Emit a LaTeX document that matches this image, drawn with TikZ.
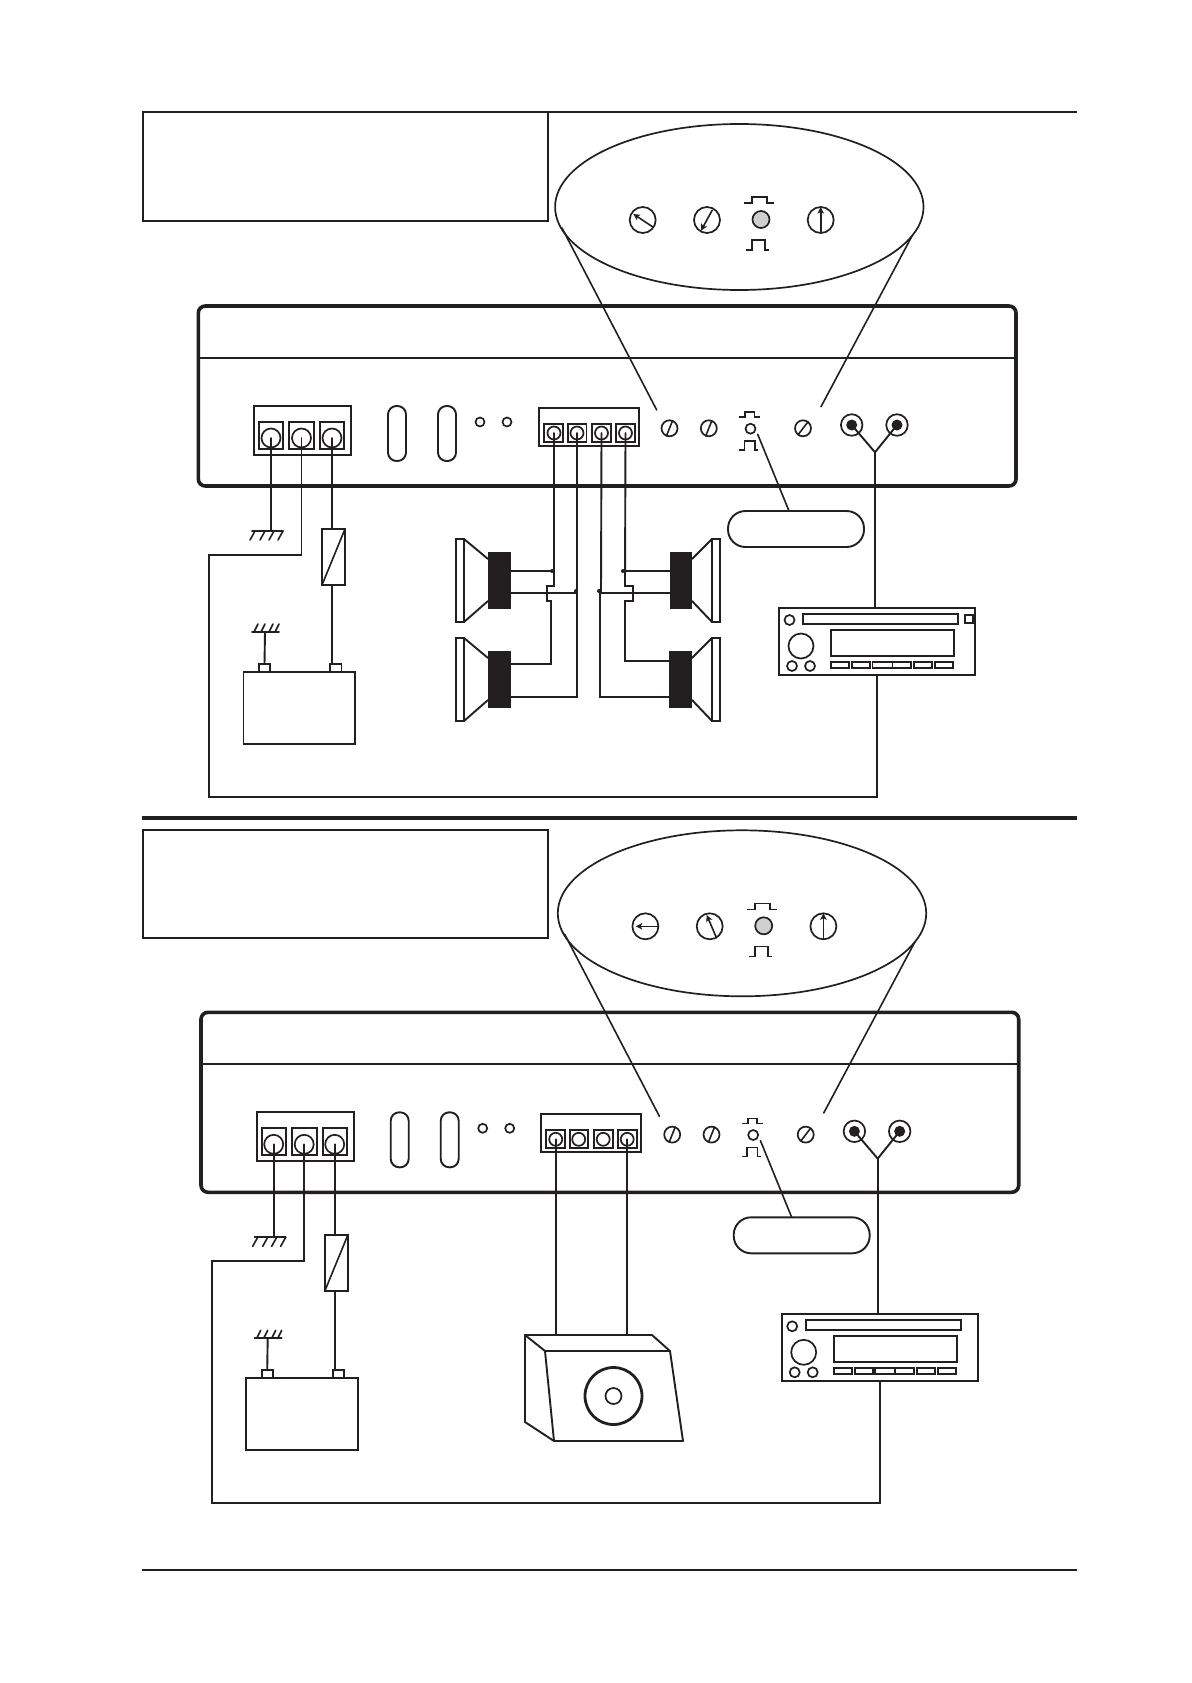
\documentclass[tikz,border=0pt]{standalone}
\usetikzlibrary{arrows.meta,shapes.geometric,calc}
\definecolor{ink}{HTML}{231F20}
\definecolor{ledgray}{HTML}{CFCFCF}
\tikzset{
  wire/.style={draw=ink,line width=1.9pt,line cap=round,line join=miter},
  thin wire/.style={draw=ink,line width=1.6pt,line cap=round},
  outline/.style={draw=ink,line width=1.9pt,fill=none,inner sep=0pt,outer sep=0pt},
  ring/.style={circle,draw=ink,line width=1.7pt,fill=none,inner sep=0pt,outer sep=0pt},
  magnet/.style={draw=none,fill=ink,inner sep=0pt,outer sep=0pt},
  needle/.style={draw=ink,line width=1.6pt,-{Stealth[length=6.5pt,width=6.5pt,inset=1.5pt]}},
  rulethin/.style={draw=ink,line width=2pt},
  dot/.style={circle,fill=ink,inner sep=0pt,minimum size=4pt},
}
% [style]{name}{x1}{y1}{x2}{y2}
\newcommand{\boxat}[6][]{%
  \pgfmathsetmacro\bcx{(#3+#5)/2}%
  \pgfmathsetmacro\bcy{(#4+#6)/2}%
  \pgfmathsetmacro\bw{#5-#3}%
  \pgfmathsetmacro\bh{#6-#4}%
  \node[outline,rectangle,minimum width=\bw pt,minimum height=\bh pt,#1] (#2) at (\bcx,\bcy) {};%
}
% {name}{x}{y}{dx}{dy} slotted screw
\newcommand{\screwat}[5]{%
  \node[ring,minimum size=16pt] (#1) at (#2,#3) {};%
  \draw[thin wire] ($(#1.center)+(#4,#5)$) -- ($(#1.center)-(#4,#5)$);%
}
% {x1}{x2}{y1}{y2}{x3}{x4} square-pulse symbol
\newcommand{\pulseat}[6]{%
  \draw[thin wire,line cap=butt] (#1,#3) -- (#5,#3) -- (#5,#4) -- (#6,#4) -- (#6,#3) -- (#2,#3);%
}
% {name}{plate x1}{plate x2}{inner plate x}{magnet x1}{magnet x2}{near magnet x}{top}
\newcommand{\speakerat}[8]{%
  \pgfmathsetmacro\sb{#8+83}%
  \pgfmathsetmacro\mt{#8+13}%
  \pgfmathsetmacro\mb{#8+70}%
  \pgfmathsetmacro\ct{#8+20}%
  \pgfmathsetmacro\cb{#8+62}%
  \boxat[]{#1p}{#2}{#8}{#3}{\sb}%
  \boxat[magnet]{#1}{#5}{\mt}{#6}{\mb}%
  \draw[wire] (#4,#8) -- (#7,\ct);%
  \draw[wire] (#4,\sb) -- (#7,\cb);%
}
% {prefix}{needle 1}{needle 2}{oval dx}{speaker block dx}
\newcommand{\ampunit}[5]{%
  % magnified panel
  \node[ellipse,draw=ink,line width=1.7pt,inner sep=0pt,minimum width=368.4pt,minimum height=166pt] (#1ell) at (739.3,207) {};
  \node[ring,minimum size=26pt] (#1d1) at (642.7,220) {};
  \node[ring,minimum size=26pt] (#1d2) at (707,220) {};
  \node[ring,minimum size=26pt] (#1d3) at (820.7,220) {};
  \node[ring,minimum size=17pt,fill=ledgray] (#1led) at (761,219.5) {};
  \draw[needle] #2;
  \draw[needle] #3;
  \draw[needle] (#1d3.south) -- (#1d3.north);
  \pulseat{744.3}{774}{203}{197}{752}{767}
  \pulseat{746.3}{769}{250}{240}{752}{765}
  % amplifier body
  \boxat[line width=3.6pt,rounded corners=7pt]{#1amp}{198.3}{306}{1016}{486}
  \draw[wire] (#1amp.west |- 0,358) -- (#1amp.east |- 0,358);
  % callout lines
  \coordinate (#1la) at (562,228);
  \coordinate (#1lb) at (656.7,410);
  \coordinate (#1ra) at (912,236);
  \coordinate (#1rb) at (821,406.7);
  \draw[thin wire] (#1la) -- (#1lb);
  \draw[thin wire] (#1ra) -- (#1rb);
  % power terminals
  \boxat[]{#1pw}{254}{406}{351}{455}
  \boxat[]{#1pa}{259}{422}{283}{449}
  \boxat[]{#1pb}{289}{422}{314}{449}
  \boxat[]{#1pc}{320}{422}{344}{449}
  \node[ring,minimum size=19pt] (#1p1) at (271,438) {};
  \node[ring,minimum size=19pt] (#1p2) at (301.5,438) {};
  \node[ring,minimum size=19pt] (#1p3) at (332,438) {};
  % fuses in the panel
  \boxat[rounded corners=8.5pt]{#1ova}{388}{406}{406}{461}
  \boxat[rounded corners=8.5pt]{#1ovb}{438}{406}{456}{461}
  \node[ring,minimum size=9pt] (#1la1) at (480,422) {};
  \node[ring,minimum size=9pt] (#1la2) at (507,422) {};
  % speaker terminals
  \begin{scope}[xshift=#5]
  \boxat[]{#1sw}{539}{408}{639}{446}
  \boxat[]{#1sa}{544}{424}{563}{442}
  \boxat[]{#1sb}{568}{424}{586.5}{442}
  \boxat[]{#1sc}{592}{424}{611}{442}
  \boxat[]{#1sd}{616}{424}{635}{442}
  \node[ring,minimum size=13pt] (#1s1) at (554,433) {};
  \node[ring,minimum size=13pt] (#1s2) at (577,433) {};
  \node[ring,minimum size=13pt] (#1s3) at (601.5,433) {};
  \node[ring,minimum size=13pt] (#1s4) at (625.5,433) {};
  \end{scope}
  % trim screws
  \screwat{#1sc1}{669.5}{428.3}{3}{-7.5}
  \screwat{#1sc2}{708.8}{428.3}{3}{-7.5}
  \screwat{#1sc3}{803}{428.3}{5}{-6.5}
  \node[ring,minimum size=10pt] (#1sw1) at (750.5,428.7) {};
  \pulseat{739}{760}{417}{412}{745}{754.3}
  \pulseat{739}{758}{450}{441}{744.3}{754.7}
  % RCA inputs
  \node[ring,minimum size=21.5pt] (#1ra1) at (851.7,425) {};
  \node[circle,fill=ink,inner sep=0pt,minimum size=11pt] (#1rc1) at (851.7,425) {};
  \node[ring,minimum size=21.5pt] (#1ra2) at (897,425) {};
  \node[circle,fill=ink,inner sep=0pt,minimum size=11pt] (#1rc2) at (897,425) {};
  \coordinate (#1yj) at (875,452.3);
  \draw[wire] (#1rc1.center) -- (#1yj);
  \draw[wire] (#1rc2.center) -- (#1yj);
  % switch label
  \boxat[rounded corners=17.5pt,xshift=#4]{#1swl}{728}{511}{864}{547}
  \coordinate (#1sl) at (757.7,434.3);
  \draw[thin wire] (#1sl) -- (#1swl.north -| 789,0);
  % head unit
  \begin{scope}[xshift=1pt]
  \boxat[]{#1hu}{778}{608}{974}{675}
  \node[ring,minimum size=10pt] (#1h1) at (788.5,620) {};
  \boxat[]{#1slot}{802}{614}{957}{624}
  \node[ring,minimum size=25pt] (#1knob) at (800,646) {};
  \boxat[]{#1disp}{830}{630}{953}{656}
  \node[ring,minimum size=10pt] (#1h2) at (791,666) {};
  \node[ring,minimum size=10pt] (#1h3) at (809,666) {};
  \boxat[]{#1b1}{830}{662}{848}{668}
  \boxat[]{#1b2}{851}{662}{869}{668}
  \boxat[]{#1b3}{871.5}{662}{891.5}{668}
  \boxat[]{#1b4}{891.5}{662}{910}{668}
  \boxat[]{#1b5}{913}{662}{931}{668}
  \boxat[]{#1b6}{934}{662}{952}{668}
  \end{scope}
  \draw[wire] (#1yj) -- (#1yj |- 0,607);
  % chassis ground
  \coordinate (#1g1) at (271,531);
  \draw[wire] (#1p1.center) -- (#1g1);
  \draw[wire] (252,531) -- (283,531);
  \foreach \gx in {255,265,274,283} \draw[thin wire] (\gx,531) -- (\gx-5,540);
  % remote line
  \coordinate (#1c1) at (301.5,555);
  \coordinate (#1c2) at (209,555);
  \coordinate (#1c3) at (209,797);
  \draw[wire] (#1p2.center) -- (#1c1) -- (#1c2) -- (#1c3) -- (#1c3 -| #1hu.south) -- (#1hu.south);
  % fuse
  \boxat[]{#1fuse}{322}{529}{345}{585}
  \draw[thin wire] (#1fuse.south west) -- (#1fuse.north east);
  \draw[wire] (#1p3.center) -- (#1p3.center |- #1fuse.north);
  % battery
  \boxat[]{#1bat}{243.5}{672}{355}{744}
  \boxat[]{#1bt1}{259}{664}{270}{672}
  \boxat[]{#1bt2}{330}{664}{341.5}{672}
  \draw[wire] (#1p3.center |- #1fuse.south) -- (#1p3.center |- #1bt2.north);
  \coordinate (#1g2) at (265,632);
  \draw[wire] (#1bt1.north) -- (#1g2);
  \draw[wire] (252,632) -- (279,632);
  \foreach \gx in {254,261,269,275} \draw[thin wire] (\gx,632) -- (\gx+4,624);
}
\begin{document}
\begin{tikzpicture}[x=1pt,y=-1pt]
\useasboundingbox (0,0) rectangle (1191,1683);
\fill[white] (0,0) rectangle (1191,1683);

% ---------- top section ----------
\coordinate (topL) at (142,112);
\coordinate (topR) at (1077,112);
\draw[draw=ink,line width=2.4pt] (topL) -- (topR);
\boxat[]{capA}{143}{112}{548}{221}

\begin{scope}
\ampunit{a}{(653.3,227.3) -- (633.3,214)}{(712.3,210) -- (701,230.7)}{0pt}{0pt}
\end{scope}

\boxat[]{aslotsq}{965}{615}{973}{623}

% four speakers
\speakerat{m1}{456}{464}{464}{488}{511}{488}{539}
\speakerat{m3}{456}{464}{464}{488}{511}{488}{638}
\speakerat{m2}{712}{720}{712}{670}{692}{692}{539}
\speakerat{m4}{712}{720}{712}{669}{692}{692}{638}

\coordinate (j1) at (554,571);
\coordinate (j2) at (577,593);
\coordinate (j3) at (600.5,593);
\coordinate (j4) at (625,571);
% wire from terminal 1
\draw[wire] (as1.center) -- (j1) -- (554,586) -- (547,586) -- (547,601) -- (551,601) -- (551,664) -- (m3.east |- 0,664);
\draw[wire] (m1.east |- j1) -- (j1);
\node[dot] (dj1) at (552,571) {};
% wire from terminal 2
\draw[wire] (as2.center) -- (577,697) -- (m3.east |- 0,697);
\draw[wire] (m1.east |- j2) -- (j2);
\node[dot] (dj2) at (576,591) {};
% wire from terminal 3
\draw[wire] (as3.center) -- (601,592) -- (600,592) -- (600,697) -- (m4.west |- 0,697);
\draw[wire] (m2.west |- j3) -- (j3);
\node[dot] (dj3) at (599,591) {};
% wire from terminal 4
\draw[wire] (as4.center) -- (625,586) -- (633,586) -- (633,601) -- (625,601) -- (625,661) -- (m4.west |- 0,661);
\draw[wire] (m2.west |- j4) -- (j4);
\node[dot] (dj4) at (623,571) {};

% ---------- divider ----------
\coordinate (midL) at (142,818);
\coordinate (midR) at (1077,818);
\draw[draw=ink,line width=4pt] (midL) -- (midR);

% ---------- bottom section ----------
\boxat[]{capB}{143}{830}{548}{938}

\begin{scope}[shift={(2.7,706.3)}]
\ampunit{b}{(656,220) -- (633,220)}{(714,232) -- (704,208.7)}{3pt}{-1pt}
\end{scope}

% subwoofer
\coordinate (sA) at (525,1335);
\coordinate (sB) at (652,1335);
\coordinate (sC) at (545,1351);
\coordinate (sD) at (670,1351);
\coordinate (sE) at (554,1441);
\coordinate (sF) at (683,1441);
\coordinate (sG) at (525,1422);
\draw[wire,line join=round] (sA) -- (sB) -- (sD) -- (sF) -- (sE) -- (sC) -- cycle;
\draw[wire] (sC) -- (sD);
\draw[wire,line join=round] (sA) -- (sG) -- (sE);
\node[circle,draw=ink,line width=2.8pt,inner sep=0pt,minimum size=57pt] (cone) at (613.5,1396) {};
\node[ring,minimum size=16pt] (dust) at (613.5,1396) {};
\draw[wire] (bs1.center) -- (bs1.center |- sA);
\draw[wire] (bs4.center) -- (bs4.center |- sA);

% ---------- bottom rule ----------
\coordinate (botL) at (142,1570);
\coordinate (botR) at (1077,1570);
\draw[rulethin] (botL) -- (botR);
\end{tikzpicture}
\end{document}
